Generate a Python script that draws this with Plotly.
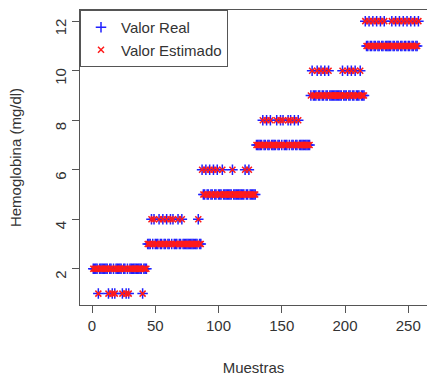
import plotly.graph_objects as go

# Hemoglobin level per sample (mg/dl), samples 1..258, six groups of 43
valor_real = [
    2, 2, 2, 2, 1, 2, 2, 2, 2, 2, 2, 2, 1, 2, 2, 1, 2, 1, 2, 2, 2, 2,
    2, 1, 2, 2, 1, 2, 1, 2, 2, 2, 2, 2, 2, 2, 2, 2, 2, 1, 2, 2, 2,
    3, 3, 3, 4, 3, 4, 3, 3, 3, 4, 3, 3, 4, 3, 3, 4, 3, 3, 4, 3, 4, 3,
    3, 3, 4, 3, 3, 4, 3, 3, 3, 3, 3, 3, 3, 3, 3, 3, 3, 3, 4, 3, 3,
    6, 5, 5, 6, 5, 5, 6, 5, 5, 6, 5, 5, 6, 5, 5, 5, 6, 5, 5, 5, 5, 5,
    5, 5, 6, 5, 5, 5, 5, 5, 5, 5, 5, 5, 6, 5, 5, 6, 5, 5, 5, 5, 5,
    7, 7, 7, 7, 7, 8, 7, 7, 8, 7, 7, 8, 7, 7, 7, 7, 8, 7, 7, 8, 7, 8,
    7, 7, 7, 8, 7, 8, 7, 7, 8, 7, 7, 8, 7, 7, 7, 7, 7, 7, 7, 7, 7,
    9, 10, 9, 9, 9, 10, 9, 9, 10, 9, 9, 10, 9, 9, 10, 9, 9, 9, 9, 9,
    9, 9, 9, 9, 9, 10, 9, 9, 9, 10, 9, 9, 10, 9, 9, 10, 9, 9, 9, 10,
    9, 9, 9,
    12, 11, 11, 12, 11, 11, 12, 11, 11, 12, 11, 11, 12, 11, 11, 12, 11,
    11, 11, 11, 11, 12, 11, 11, 12, 11, 11, 12, 11, 11, 12, 11, 11, 12,
    11, 11, 12, 11, 11, 12, 11, 11, 12,
]
# Model estimates coincide with the measured values
valor_estimado = [
    2, 2, 2, 2, 1, 2, 2, 2, 2, 2, 2, 2, 1, 2, 2, 1, 2, 1, 2, 2, 2, 2,
    2, 1, 2, 2, 1, 2, 1, 2, 2, 2, 2, 2, 2, 2, 2, 2, 2, 1, 2, 2, 2,
    3, 3, 3, 4, 3, 4, 3, 3, 3, 4, 3, 3, 4, 3, 3, 4, 3, 3, 4, 3, 4, 3,
    3, 3, 4, 3, 3, 4, 3, 3, 3, 3, 3, 3, 3, 3, 3, 3, 3, 3, 4, 3, 3,
    6, 5, 5, 6, 5, 5, 6, 5, 5, 6, 5, 5, 6, 5, 5, 5, 6, 5, 5, 5, 5, 5,
    5, 5, 6, 5, 5, 5, 5, 5, 5, 5, 5, 5, 6, 5, 5, 6, 5, 5, 5, 5, 5,
    7, 7, 7, 7, 7, 8, 7, 7, 8, 7, 7, 8, 7, 7, 7, 7, 8, 7, 7, 8, 7, 8,
    7, 7, 7, 8, 7, 8, 7, 7, 8, 7, 7, 8, 7, 7, 7, 7, 7, 7, 7, 7, 7,
    9, 10, 9, 9, 9, 10, 9, 9, 10, 9, 9, 10, 9, 9, 10, 9, 9, 9, 9, 9,
    9, 9, 9, 9, 9, 10, 9, 9, 9, 10, 9, 9, 10, 9, 9, 10, 9, 9, 9, 10,
    9, 9, 9,
    12, 11, 11, 12, 11, 11, 12, 11, 11, 12, 11, 11, 12, 11, 11, 12, 11,
    11, 11, 11, 11, 12, 11, 11, 12, 11, 11, 12, 11, 11, 12, 11, 11, 12,
    11, 11, 12, 11, 11, 12, 11, 11, 12,
]
muestras = list(range(1, len(valor_real) + 1))

x_ticks = [0, 50, 100, 150, 200, 250]
y_ticks = [2, 4, 6, 8, 10, 12]

FONT = "Liberation Sans, Arial, sans-serif"
AXIS_COLOR = "#555555"
TEXT_COLOR = "#333333"

fig = go.Figure()
fig.add_trace(go.Scatter(
    x=muestras, y=valor_real, mode="markers", name="Valor Real",
    marker=dict(symbol="cross-thin", size=7.5, color="#2020ff",
                line=dict(width=1.5, color="#2020ff")),
))
fig.add_trace(go.Scatter(
    x=muestras, y=valor_estimado, mode="markers", name="Valor Estimado",
    marker=dict(symbol="x-thin", size=6, color="#ff1a1a",
                line=dict(width=1.5, color="#ff1a1a")),
))

fig.update_layout(
    width=427, height=376,
    margin=dict(l=80, r=0, t=10, b=71),
    paper_bgcolor="white", plot_bgcolor="white",
    font=dict(family=FONT, size=15, color=TEXT_COLOR),
    showlegend=True,
    legend=dict(
        x=0, y=1, xanchor="left", yanchor="top",
        bgcolor="white", bordercolor=AXIS_COLOR, borderwidth=1,
        font=dict(size=15, color=TEXT_COLOR),
        itemwidth=30, tracegroupgap=0,
    ),
)
fig.update_xaxes(
    range=[-9.5, 264.8], tickvals=x_ticks, automargin=False,
    showgrid=False, zeroline=False,
    showline=True, linecolor=AXIS_COLOR, linewidth=1, mirror=True,
    ticks="outside", ticklen=7, tickcolor=AXIS_COLOR,
    ticklabelstandoff=0,
    title=dict(text="Muestras", standoff=38, font=dict(size=15)),
)
fig.update_yaxes(
    range=[0.54, 12.45], tickvals=y_ticks, tickangle=-90, automargin=False,
    showgrid=False, zeroline=False,
    showline=True, linecolor=AXIS_COLOR, linewidth=1, mirror=False,
    ticks="outside", ticklen=7, tickcolor=AXIS_COLOR,
    ticklabelstandoff=0, ticklabelshift=8,
    title=dict(text="Hemoglobina (mg/dl)", standoff=26, font=dict(size=15)),
)

fig.write_html("out.html")
